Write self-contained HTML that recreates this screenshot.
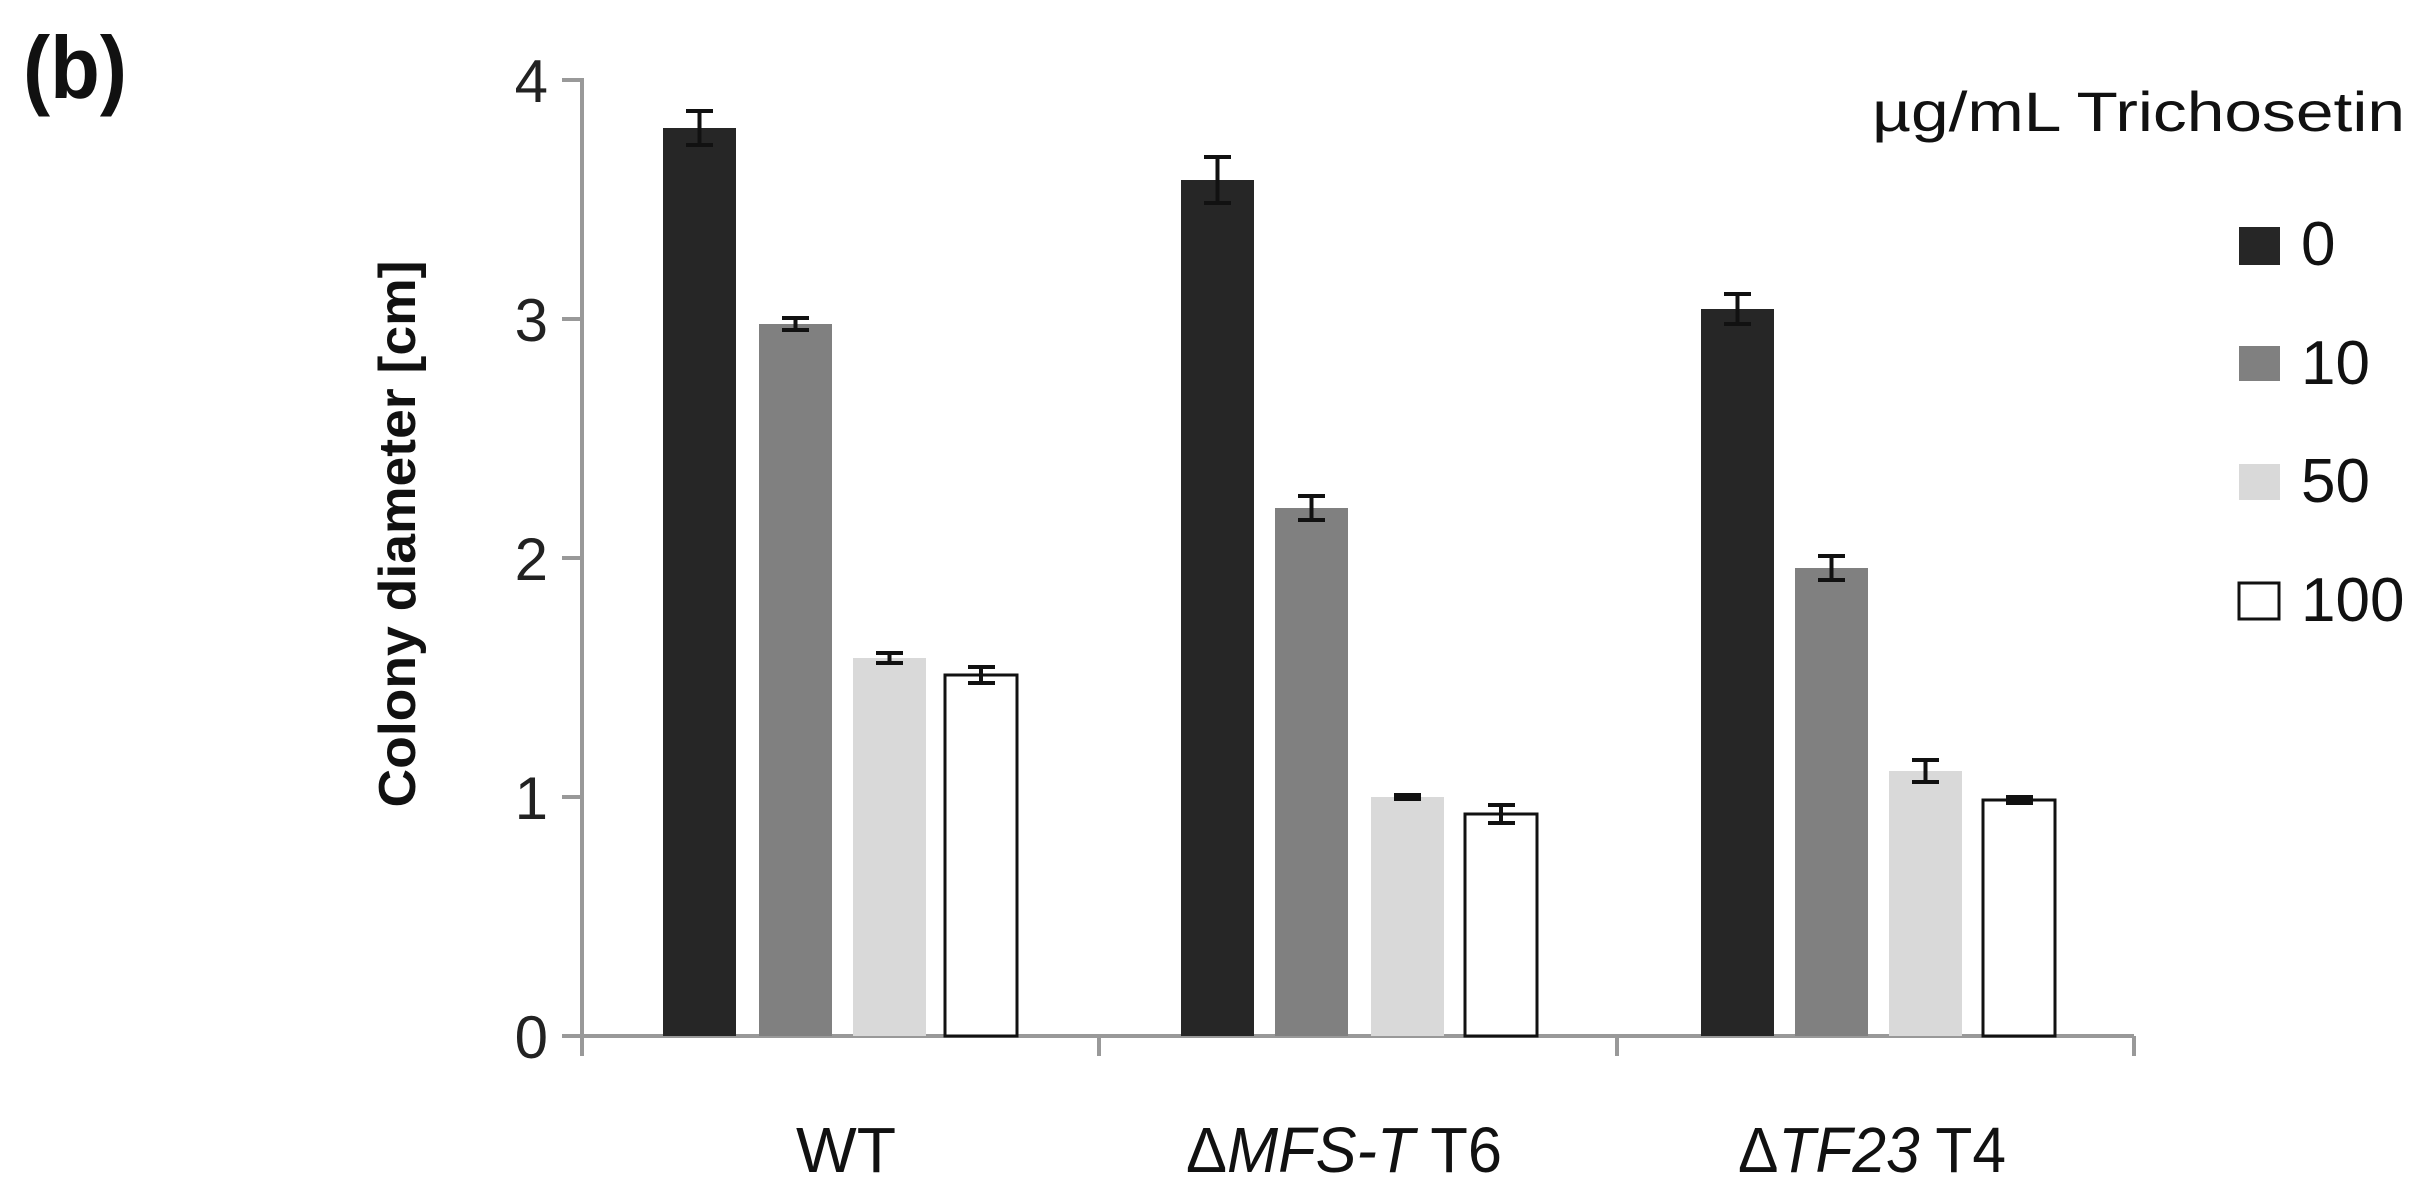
<!DOCTYPE html>
<html><head><meta charset="utf-8"><style>html,body{margin:0;padding:0;background:#fff}svg{display:block}</style></head>
<body>
<svg width="2418" height="1194" viewBox="0 0 2418 1194" xmlns="http://www.w3.org/2000/svg" font-family="'Liberation Sans', sans-serif">
<rect width="2418" height="1194" fill="#fff"/>
<text x="23" y="98" font-size="88" font-weight="bold" fill="#111" textLength="104" lengthAdjust="spacingAndGlyphs">(b)</text>
<!-- axes -->
<g stroke="#999" stroke-width="4" fill="none">
<line x1="582" y1="78" x2="582" y2="1056"/>
<line x1="580" y1="1036" x2="2134" y2="1036"/>
<line x1="562" y1="80" x2="582" y2="80"/>
<line x1="562" y1="319" x2="582" y2="319"/>
<line x1="562" y1="558" x2="582" y2="558"/>
<line x1="562" y1="797" x2="582" y2="797"/>
<line x1="562" y1="1036" x2="582" y2="1036"/>
<line x1="1099" y1="1036" x2="1099" y2="1056"/>
<line x1="1617" y1="1036" x2="1617" y2="1056"/>
<line x1="2134" y1="1036" x2="2134" y2="1056"/>
</g>
<g font-size="60" fill="#222" text-anchor="end">
<text x="548" y="102">4</text>
<text x="548" y="341">3</text>
<text x="548" y="580">2</text>
<text x="548" y="819">1</text>
<text x="548" y="1058">0</text>
</g>
<text transform="translate(415,534) rotate(-90)" text-anchor="middle" font-size="52" font-weight="bold" fill="#111" textLength="547" lengthAdjust="spacingAndGlyphs">Colony diameter [cm]</text>
<!-- bars -->
<g>
<rect x="663" y="128" width="73" height="908" fill="#262626"/>
<rect x="759" y="324" width="73" height="712" fill="#808080"/>
<rect x="853" y="658" width="73" height="378" fill="#d9d9d9"/>
<rect x="945" y="675" width="72" height="361" fill="#fff" stroke="#111" stroke-width="3"/>
<rect x="1181" y="180" width="73" height="856" fill="#262626"/>
<rect x="1275" y="508" width="73" height="528" fill="#808080"/>
<rect x="1371" y="797" width="73" height="239" fill="#d9d9d9"/>
<rect x="1465" y="814" width="72" height="222" fill="#fff" stroke="#111" stroke-width="3"/>
<rect x="1701" y="309" width="73" height="727" fill="#262626"/>
<rect x="1795" y="568" width="73" height="468" fill="#808080"/>
<rect x="1889" y="771" width="73" height="265" fill="#d9d9d9"/>
<rect x="1983" y="800" width="72" height="236" fill="#fff" stroke="#111" stroke-width="3"/>
</g>
<!-- error bars -->
<g stroke="#111" stroke-width="4" fill="none">
<path d="M699.5 111v34M686 111h27M686 145h27"/>
<path d="M795.5 318v12M782 318h27M782 330h27"/>
<path d="M889.5 653v10M876 653h27M876 663h27"/>
<path d="M981 667v16M968 667h27M968 683h27"/>
<path d="M1217.5 157v46M1204 157h27M1204 203h27"/>
<path d="M1311.5 496v24M1298 496h27M1298 520h27"/>
<path d="M1407.5 795v4M1394 795h27M1394 799h27"/>
<path d="M1501 805v18M1488 805h27M1488 823h27"/>
<path d="M1737.5 294v30M1724 294h27M1724 324h27"/>
<path d="M1831.5 556v24M1818 556h27M1818 580h27"/>
<path d="M1925.5 760v22M1912 760h27M1912 782h27"/>
<path d="M2019 797v6M2006 797h27M2006 803h27"/>
</g>
<!-- category labels -->
<g font-size="64" fill="#111" text-anchor="middle">
<text x="846" y="1172" textLength="100" lengthAdjust="spacingAndGlyphs">WT</text>
<text x="1344" y="1172" textLength="316" lengthAdjust="spacingAndGlyphs">Δ<tspan font-style="italic">MFS-T</tspan> T6</text>
<text x="1872" y="1172" textLength="268" lengthAdjust="spacingAndGlyphs">Δ<tspan font-style="italic">TF23</tspan> T4</text>
</g>
<!-- legend -->
<text x="1872" y="131" font-size="56" fill="#111" textLength="533" lengthAdjust="spacingAndGlyphs">µg/mL Trichosetin</text>
<rect x="2239" y="227" width="41" height="38" fill="#262626"/>
<rect x="2239" y="346" width="41" height="35" fill="#808080"/>
<rect x="2239" y="464" width="41" height="36" fill="#d9d9d9"/>
<rect x="2239" y="583" width="40" height="36" fill="#fff" stroke="#111" stroke-width="3"/>
<g font-size="62" fill="#111">
<text x="2301" y="265">0</text>
<text x="2301" y="384">10</text>
<text x="2301" y="502">50</text>
<text x="2301" y="621">100</text>
</g>
</svg>
</body></html>
